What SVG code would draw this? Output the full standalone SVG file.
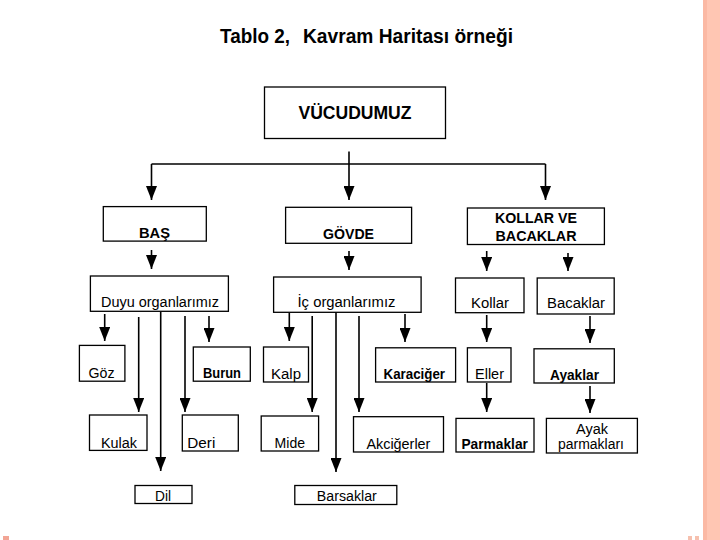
<svg xmlns="http://www.w3.org/2000/svg" width="720" height="540" viewBox="0 0 720 540">
<style>
.bx{fill:#fff;stroke:#000;stroke-width:1.3}
.t{font-family:"Liberation Sans",Arial,sans-serif;font-size:15.5px;fill:#000}
.b{font-weight:bold}
.h{font-size:15px}
.m{text-anchor:middle}
.c{fill:none;stroke:#000;stroke-width:1.6}
</style>
<defs>
<marker id="ah" markerUnits="userSpaceOnUse" markerWidth="14" markerHeight="11" refX="14" refY="5.5" orient="auto" viewBox="0 0 14 11">
<path d="M0,0 L14,5.5 L0,11 z" fill="#000"/>
</marker>
</defs>
<rect width="720" height="540" fill="#fff"/>
<rect x="703" y="0" width="17" height="540" fill="#FFC6B3"/>
<rect x="703" y="0" width="4" height="540" fill="#FBB9A4"/>
<rect x="3" y="536" width="6" height="4" fill="#F2A595"/>
<rect x="688" y="536" width="4" height="4" fill="#F6C0AE"/>
<rect x="695" y="536" width="4" height="4" fill="#F6C0AE"/>

<g id="title">
<text class="t b" x="220" y="43" style="font-size:19.5px" textLength="70" lengthAdjust="spacingAndGlyphs">Tablo 2,</text>
<text class="t b" x="303" y="43" style="font-size:19.5px" textLength="210" lengthAdjust="spacingAndGlyphs">Kavram Haritası örneği</text>
</g>

<g id="connectors">
<path class="c" d="M349,151.5 V200" marker-end="url(#ah)"/>
<path class="c" d="M151.5,164 H545.5"/>
<path class="c" d="M151.5,164 V200" marker-end="url(#ah)"/>
<path class="c" d="M545.5,164 V200" marker-end="url(#ah)"/>
<path class="c" d="M151.5,250 V269" marker-end="url(#ah)"/>
<path class="c" d="M349,251 V270" marker-end="url(#ah)"/>
<path class="c" d="M486.7,251 V271" marker-end="url(#ah)"/>
<path class="c" d="M568,253 V271" marker-end="url(#ah)"/>
<path class="c" d="M104.7,314 V341" marker-end="url(#ah)"/>
<path class="c" d="M138.7,317 V412" marker-end="url(#ah)"/>
<path class="c" d="M160.7,312 V471" marker-end="url(#ah)"/>
<path class="c" d="M185,316 V412" marker-end="url(#ah)"/>
<path class="c" d="M209,316 V342" marker-end="url(#ah)"/>
<path class="c" d="M289.3,313 V341" marker-end="url(#ah)"/>
<path class="c" d="M312.2,316 V412" marker-end="url(#ah)"/>
<path class="c" d="M336,312 V472" marker-end="url(#ah)"/>
<path class="c" d="M359,316 V412" marker-end="url(#ah)"/>
<path class="c" d="M405,314 V342" marker-end="url(#ah)"/>
<path class="c" d="M486.7,315 V342" marker-end="url(#ah)"/>
<path class="c" d="M590,316 V343" marker-end="url(#ah)"/>
<path class="c" d="M486.7,383 V412" marker-end="url(#ah)"/>
<path class="c" d="M590,386 V413" marker-end="url(#ah)"/>
</g>

<g id="n-vucudumuz"><rect class="bx" x="264.5" y="87" width="181" height="51.5"/>
<text class="t b m" x="355" y="119" style="font-size:18px" textLength="113" lengthAdjust="spacingAndGlyphs">VÜCUDUMUZ</text></g>

<g id="n-bas"><rect class="bx" x="103.3" y="206.6" width="103" height="34.5"/>
<text class="t b h m" x="154.5" y="237.5" textLength="31" lengthAdjust="spacingAndGlyphs">BAŞ</text></g>
<g id="n-govde"><rect class="bx" x="285.6" y="207.3" width="126" height="36"/>
<text class="t b h m" x="348.5" y="238.5" textLength="51" lengthAdjust="spacingAndGlyphs">GÖVDE</text></g>
<g id="n-kollarve"><rect class="bx" x="467.4" y="208" width="137" height="36.5"/>
<text class="t b h m" x="536" y="223" textLength="82" lengthAdjust="spacingAndGlyphs">KOLLAR VE</text>
<text class="t b h m" x="536" y="240.5" textLength="81" lengthAdjust="spacingAndGlyphs">BACAKLAR</text></g>

<g id="n-duyu"><rect class="bx" x="90.4" y="276" width="138" height="35.3"/>
<text class="t" x="101" y="307" textLength="118" lengthAdjust="spacingAndGlyphs">Duyu organlarımız</text></g>
<g id="n-ic"><rect class="bx" x="273.6" y="277" width="147.5" height="35.3"/>
<text class="t" x="297.5" y="307" textLength="98" lengthAdjust="spacingAndGlyphs">İç organlarımız</text></g>
<g id="n-kollar"><rect class="bx" x="455.5" y="278" width="68.5" height="34.7"/>
<text class="t" x="471" y="307.5" textLength="38" lengthAdjust="spacingAndGlyphs">Kollar</text></g>
<g id="n-bacaklar"><rect class="bx" x="537.2" y="278" width="77" height="36"/>
<text class="t" x="547" y="308" textLength="58" lengthAdjust="spacingAndGlyphs">Bacaklar</text></g>

<g id="n-goz"><rect class="bx" x="79.4" y="345.4" width="45.5" height="35.8"/>
<text class="t" x="88.6" y="377.5" textLength="26" lengthAdjust="spacingAndGlyphs">Göz</text></g>
<g id="n-burun"><rect class="bx" x="193.3" y="347" width="57" height="34.2"/>
<text class="t b" x="203" y="377.5" textLength="38" lengthAdjust="spacingAndGlyphs">Burun</text></g>
<g id="n-kalp"><rect class="bx" x="263.5" y="347" width="45" height="35"/>
<text class="t" x="271" y="378.5" textLength="30" lengthAdjust="spacingAndGlyphs">Kalp</text></g>
<g id="n-karaciger"><rect class="bx" x="375.6" y="347.8" width="80" height="34.2"/>
<text class="t b" x="383.5" y="378.5" textLength="61.5" lengthAdjust="spacingAndGlyphs">Karaciğer</text></g>
<g id="n-eller"><rect class="bx" x="467.4" y="347.8" width="43.6" height="34.2"/>
<text class="t" x="475" y="378.5" textLength="29" lengthAdjust="spacingAndGlyphs">Eller</text></g>
<g id="n-ayaklar"><rect class="bx" x="534" y="348.8" width="80.3" height="34.2"/>
<text class="t b" x="550" y="379.5" textLength="49" lengthAdjust="spacingAndGlyphs">Ayaklar</text></g>

<g id="n-kulak"><rect class="bx" x="89.5" y="415" width="57.5" height="35.4"/>
<text class="t" x="101" y="447.5" textLength="36" lengthAdjust="spacingAndGlyphs">Kulak</text></g>
<g id="n-deri"><rect class="bx" x="182.3" y="415" width="56" height="36"/>
<text class="t" x="187.3" y="447.5" textLength="28" lengthAdjust="spacingAndGlyphs">Deri</text></g>
<g id="n-mide"><rect class="bx" x="261.2" y="416" width="57.4" height="35"/>
<text class="t" x="274.6" y="447.5" textLength="30.5" lengthAdjust="spacingAndGlyphs">Mide</text></g>
<g id="n-akcigerler"><rect class="bx" x="353.5" y="416.7" width="90" height="35.3"/>
<text class="t" x="366.4" y="448.5" textLength="64" lengthAdjust="spacingAndGlyphs">Akciğerler</text></g>
<g id="n-parmaklar"><rect class="bx" x="456" y="418.4" width="78" height="33.6"/>
<text class="t b" x="461.4" y="448.5" textLength="66.5" lengthAdjust="spacingAndGlyphs">Parmaklar</text></g>
<g id="n-ayakparmaklari"><rect class="bx" x="546.4" y="418.4" width="91" height="34.6"/>
<text class="t" x="576" y="433.5" textLength="32" lengthAdjust="spacingAndGlyphs">Ayak</text>
<text class="t" x="558" y="449" textLength="66" lengthAdjust="spacingAndGlyphs">parmakları</text></g>

<g id="n-dil"><rect class="bx" x="135" y="485.5" width="57" height="18"/>
<text class="t" x="155" y="501" textLength="16" lengthAdjust="spacingAndGlyphs">Dil</text></g>
<g id="n-barsaklar"><rect class="bx" x="294.8" y="485.5" width="102" height="19"/>
<text class="t" x="316.8" y="501" textLength="60" lengthAdjust="spacingAndGlyphs">Barsaklar</text></g>
</svg>
